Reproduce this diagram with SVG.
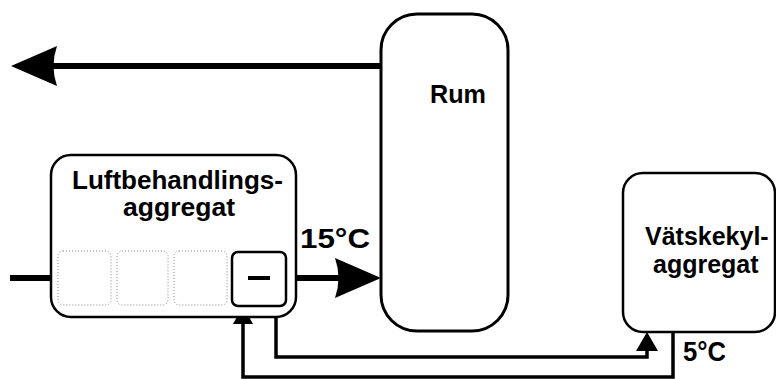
<svg xmlns="http://www.w3.org/2000/svg" width="776" height="379" viewBox="0 0 776 379">
<style>
.box{fill:#fff;stroke:#000;stroke-width:2.5}
.big{fill:#fff;stroke:#000;stroke-width:3}
.dot{fill:none;stroke:#888;stroke-width:1;stroke-dasharray:1 2}
.t{font-family:"Liberation Sans",Arial,sans-serif;font-weight:bold;font-size:26px;fill:#000}
.thick{fill:none;stroke:#000;stroke-width:6}
.pipe{fill:none;stroke:#000;stroke-width:3.5}
.head{fill:#000;stroke:none}
</style>
<rect width="776" height="379" fill="#fff"/>
<g id="connectors">
<line class="thick" x1="10" y1="278" x2="52" y2="278"/>
<line class="thick" x1="294" y1="278" x2="340" y2="278"/>
<path class="head" d="M381,278 L335,258 Q342,278 335,298 Z"/>
<line class="thick" x1="381" y1="66" x2="52" y2="66"/>
<path class="head" d="M11,66 L57,46 Q50,66 57,86 Z"/>
<path class="pipe" d="M276,306 V357 H647 V350"/>
<path class="head" d="M647,332 L636,351 L658,351 Z"/>
<path class="pipe" d="M673,332 V377 H243 V323"/>
<path class="head" d="M243,306 L233,324 L253,324 Z"/>
</g>
<g id="rum">
<rect class="big" x="381" y="14" width="127" height="317" rx="36" ry="36"/>
<text class="t" x="430" y="103" textLength="56" lengthAdjust="spacingAndGlyphs">Rum</text>
</g>
<g id="luftbehandlingsaggregat">
<rect class="box" x="51" y="155" width="245" height="162" rx="20" ry="20"/>
<text class="t" x="72" y="189" textLength="211" lengthAdjust="spacingAndGlyphs">Luftbehandlings-</text>
<text class="t" x="123" y="216" textLength="112" lengthAdjust="spacingAndGlyphs">aggregat</text>
<rect class="dot" x="58" y="251" width="53" height="54" rx="5"/>
<rect class="dot" x="117" y="251" width="51" height="54" rx="5"/>
<rect class="dot" x="174" y="251" width="53" height="54" rx="5"/>
</g>
<g id="kylbatteri">
<rect class="box" x="232" y="252" width="54" height="54" rx="6" ry="6"/>
<line x1="248" y1="278" x2="270" y2="278" stroke="#000" stroke-width="4"/>
</g>
<g id="vatskekylaggregat">
<rect class="box" x="623" y="173" width="152" height="159" rx="20" ry="20"/>
<text class="t" x="645" y="245" style="font-size:25px">Vätskekyl-</text>
<text class="t" x="653" y="273" style="font-size:25px">aggregat</text>
</g>
<g id="labels">
<text class="t" x="300" y="248" textLength="70" lengthAdjust="spacingAndGlyphs" style="font-size:28px">15°C</text>
<text class="t" x="683" y="361" textLength="43" lengthAdjust="spacingAndGlyphs" style="font-size:27px">5°C</text>
</g>
</svg>
